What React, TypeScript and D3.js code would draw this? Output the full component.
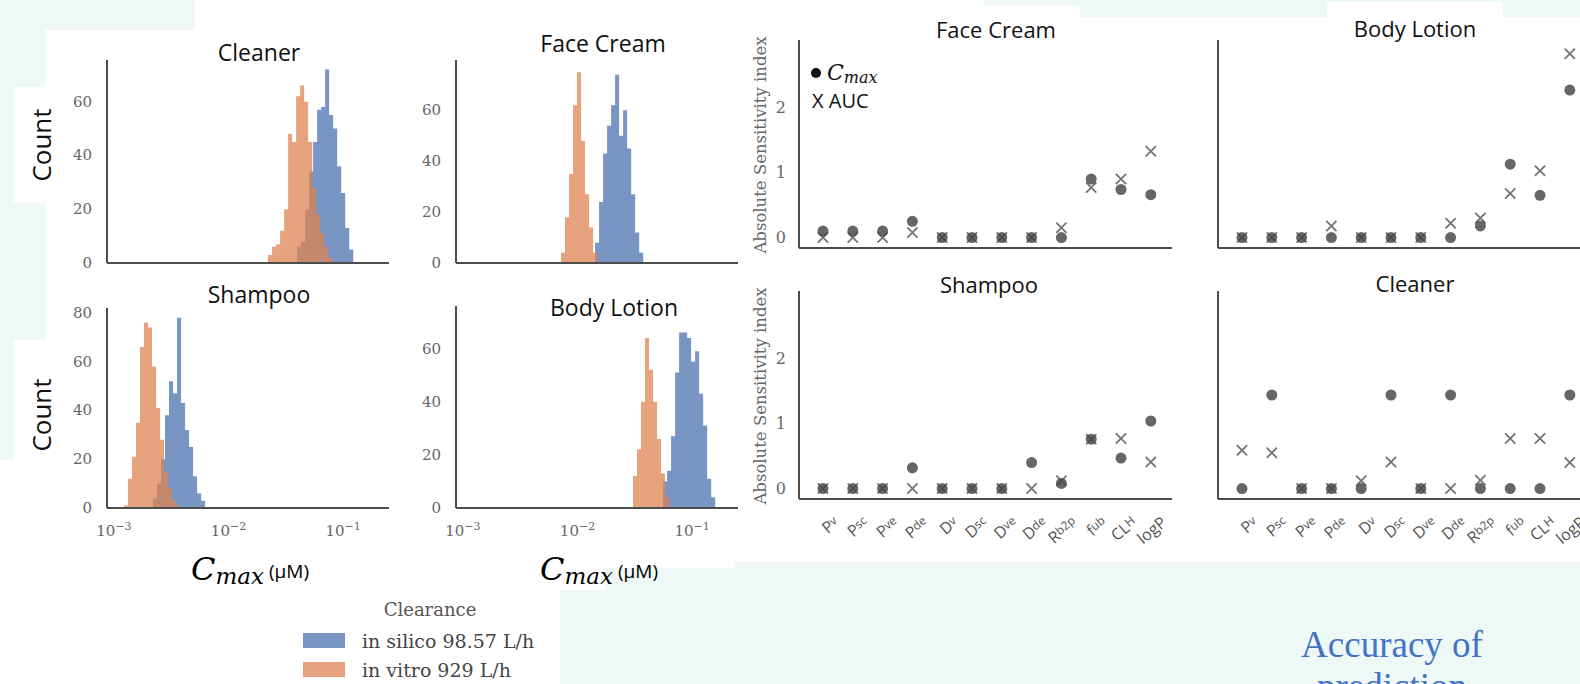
import { useEffect, useRef } from "react";
import * as d3 from "d3";

const W = 1580;
const H = 684;
const MINT = "#eef8f6";
const BLUE = "#4c72b0";
const ORANGE = "#dd8452";

// ---- histograms of C_max (log10 bins, width in decades) ----
const binWidth = 0.035;
const histTitles = ["Cleaner", "Face Cream", "Shampoo", "Body Lotion"];
const histYMax = [75.5, 79.8, 82, 76];
const histYTicks = [[0, 20, 40, 60], [0, 20, 40, 60], [0, 20, 40, 60, 80], [0, 20, 40, 60]];
const xTickExps = [-3, -2, -1];

const silicoStart = [-1.402, -1.847, -2.659, -1.254];
const silicoCounts = [
  [6, 8, 20, 34, 45, 57, 58, 72, 55, 50, 36, 26, 13, 5],
  [8, 24, 43, 54, 62, 74, 50, 60, 45, 27, 12, 4],
  [4, 10, 20, 38, 52, 47, 78, 43, 32, 25, 13, 6, 3],
  [10, 14, 27, 51, 66, 66, 64, 55, 59, 43, 31, 11, 4],
];
const vitroStart = [-1.655, -2.144, -2.912, -1.516];
const vitroCounts = [
  [3, 6, 7, 12, 20, 48, 45, 62, 66, 60, 45, 28, 18, 11, 6, 2],
  [4, 18, 35, 62, 75, 48, 27, 14, 4],
  [1, 12, 21, 35, 66, 76, 74, 58, 41, 28, 15, 8, 3, 1],
  [12, 22, 40, 64, 52, 40, 26, 13, 4],
];
const legendTitle = "Clearance";
const legendLabels = ["in silico 98.57 L/h", "in vitro 929 L/h"];

// ---- sensitivity scatter ----
const params = ["P", "P", "P", "P", "D", "D", "D", "D", "R", "f", "CL", "logP"];
const paramSubs = ["v", "sc", "ve", "de", "v", "sc", "ve", "de", "b2p", "ub", "H", ""];
const scatterTitles = ["Face Cream", "Body Lotion", "Shampoo", "Cleaner"];
const scatterYTicks = [0, 1, 2];
const cmaxValues = [
  [0.1, 0.1, 0.1, 0.25, 0, 0, 0, 0, 0, 0.9, 0.74, 0.66],
  [0, 0, 0, 0, 0, 0, 0, 0, 0.18, 1.13, 0.65, 2.27],
  [0, 0, 0, 0.32, 0, 0, 0, 0.4, 0.08, 0.76, 0.47, 1.04],
  [0, 1.44, 0, 0, 0, 1.44, 0, 1.44, 0, 0, 0, 1.44],
];
const aucValues = [
  [0, 0, 0, 0.08, 0, 0, 0, 0, 0.15, 0.77, 0.9, 1.33],
  [0, 0, 0, 0.18, 0, 0, 0, 0.22, 0.3, 0.68, 1.03, 2.83],
  [0, 0, 0, 0, 0, 0, 0, 0, 0.12, 0.76, 0.77, 0.41],
  [0.59, 0.55, 0, 0, 0.12, 0.41, 0, 0, 0.13, 0.77, 0.77, 0.4],
];

const SANS = "'Open Sans', sans-serif";
const SERIF = "'DejaVu Serif', serif";

export default function App() {
  const ref = useRef<SVGSVGElement>(null);

  useEffect(() => {
    const svg = d3.select(ref.current);
    svg.selectAll("*").remove();

    // slide background + white picture areas
    svg.append("rect").attr("width", W).attr("height", H).attr("fill", MINT);
    const whiteBoxes = [
      [195, 0, 789, 35], [45, 30, 690, 538], [735, 17, 845, 545], [984, 5, 96, 12],
      [1327, 2, 176, 15], [13, 87, 37, 116], [13, 340, 37, 120], [0, 460, 45, 224],
      [45, 568, 515, 116], [560, 568, 45, 22],
    ];
    svg.selectAll("rect.white").data(whiteBoxes).join("rect")
      .attr("class", "white")
      .attr("x", d => d[0]).attr("y", d => d[1])
      .attr("width", d => d[2]).attr("height", d => d[3])
      .attr("fill", "#fff");

    // ---------- histograms ----------
    const histPanels = [
      { x: 107, y: 60, h: 203 },
      { x: 456, y: 60, h: 203 },
      { x: 107, y: 308, h: 200 },
      { x: 456, y: 306, h: 202 },
    ];
    const titleBase = [61, 52, 303, 316];
    const titleX = [259, 603, 259, 614];

    histPanels.forEach((p, k) => {
      const g = svg.append("g");
      const xs = d3.scaleLog().domain([10 ** -3.06, 10 ** -0.6]).range([p.x, p.x + 282]);
      const ys = d3.scaleLinear().domain([0, histYMax[k]]).range([p.y + p.h, p.y]);

      const area = d3.area<{ e: number; c: number }>()
        .x(d => xs(10 ** d.e))
        .y0(ys(0))
        .y1(d => ys(d.c))
        .curve(d3.curveStepAfter);

      const series = [
        { start: silicoStart[k], counts: silicoCounts[k], color: BLUE },
        { start: vitroStart[k], counts: vitroCounts[k], color: ORANGE },
      ];
      series.forEach(s => {
        const pts = s.counts.map((c, i) => ({ e: s.start + i * binWidth, c }));
        pts.push({ e: s.start + s.counts.length * binWidth, c: s.counts[s.counts.length - 1] });
        g.append("path").attr("d", area(pts)!).attr("fill", s.color).attr("fill-opacity", 0.75);
      });

      // spines
      g.append("line").attr("x1", p.x).attr("x2", p.x).attr("y1", p.y).attr("y2", p.y + p.h)
        .attr("stroke", "#4d4d4d").attr("stroke-width", 2);
      g.append("line").attr("x1", p.x).attr("x2", p.x + 282).attr("y1", p.y + p.h).attr("y2", p.y + p.h)
        .attr("stroke", "#4d4d4d").attr("stroke-width", 2);

      g.selectAll("text.yt").data(histYTicks[k]).join("text")
        .attr("x", p.x - 15).attr("y", d => ys(d))
        .attr("text-anchor", "end").attr("dominant-baseline", "central")
        .attr("font-family", SERIF).attr("font-size", 15).attr("fill", "#666")
        .text(d => d);

      if (k >= 2) {
        xTickExps.forEach(e => {
          const t = g.append("text")
            .attr("x", xs(10 ** e)).attr("y", p.y + p.h + 28)
            .attr("text-anchor", "middle")
            .attr("font-family", SERIF).attr("font-size", 15).attr("fill", "#666");
          t.append("tspan").text("10");
          t.append("tspan").attr("dy", -6).attr("font-size", 11).text("\u2212" + Math.abs(e));
        });
        // C_max (uM) label
        const lab = svg.append("text")
          .attr("x", p.x + 143).attr("y", 580)
          .attr("text-anchor", "middle").attr("fill", "#000");
        lab.append("tspan").attr("font-family", SERIF).attr("font-style", "italic")
          .attr("font-size", 32).text("C");
        lab.append("tspan").attr("font-family", SERIF).attr("font-style", "italic")
          .attr("font-size", 23).attr("dy", 4).text("max");
        lab.append("tspan").attr("font-family", SANS).attr("font-size", 19)
          .attr("dy", -6).attr("dx", 5).text("(\u03bcM)");
      }

      svg.append("text")
        .attr("x", titleX[k]).attr("y", titleBase[k])
        .attr("text-anchor", "middle")
        .attr("font-family", SANS).attr("font-size", 23).attr("fill", "#111")
        .text(histTitles[k]);
    });

    [145, 415].forEach(cy => {
      svg.append("text")
        .attr("transform", `translate(41,${cy}) rotate(-90)`)
        .attr("text-anchor", "middle").attr("dominant-baseline", "central")
        .attr("font-family", SANS).attr("font-size", 26).attr("fill", "#111")
        .text("Count");
    });

    // histogram legend
    svg.append("text").attr("x", 430).attr("y", 609)
      .attr("text-anchor", "middle").attr("dominant-baseline", "central")
      .attr("font-family", SERIF).attr("font-size", 18).attr("fill", "#555")
      .text(legendTitle);
    [BLUE, ORANGE].forEach((c, i) => {
      svg.append("rect").attr("x", 303).attr("y", 633 + i * 29).attr("width", 42).attr("height", 15)
        .attr("fill", c).attr("fill-opacity", 0.75);
      svg.append("text").attr("x", 362).attr("y", 641 + i * 29)
        .attr("dominant-baseline", "central")
        .attr("font-family", SERIF).attr("font-size", 19).attr("fill", "#444")
        .text(legendLabels[i]);
    });

    // ---------- scatter panels ----------
    const scPanels = [
      { x: 799, y: 40 },
      { x: 1218, y: 40 },
      { x: 799, y: 291 },
      { x: 1218, y: 291 },
    ];
    const scTitleX = [996, 1415, 989, 1415];
    const scTitleBase = [38, 37, 293, 292];

    scPanels.forEach((p, k) => {
      const g = svg.append("g");
      const xs = d3.scalePoint<number>().domain(d3.range(12)).range([p.x + 24, p.x + 24 + 11 * 29.8]);
      const ys = d3.scaleLinear().domain([-0.16, 3.04]).range([p.y + 208, p.y]);

      g.append("line").attr("x1", p.x).attr("x2", p.x).attr("y1", p.y).attr("y2", p.y + 208)
        .attr("stroke", "#4d4d4d").attr("stroke-width", 2);
      g.append("line").attr("x1", p.x).attr("x2", p.x + 373).attr("y1", p.y + 208).attr("y2", p.y + 208)
        .attr("stroke", "#4d4d4d").attr("stroke-width", 2);

      g.selectAll("circle").data(cmaxValues[k]).join("circle")
        .attr("cx", (_, i) => xs(i)!).attr("cy", d => ys(d)).attr("r", 5.5)
        .attr("fill", "#666");
      const cross = d3.symbol().type(d3.symbolX).size(70);
      g.selectAll("path.auc").data(aucValues[k]).join("path")
        .attr("class", "auc")
        .attr("d", cross()!)
        .attr("transform", (d, i) => `translate(${xs(i)},${ys(d)})`)
        .attr("fill", "none").attr("stroke", "#444").attr("stroke-opacity", 0.75).attr("stroke-width", 1.8);

      if (k % 2 === 0) {
        g.selectAll("text.yt").data(scatterYTicks).join("text")
          .attr("x", p.x - 13).attr("y", d => ys(d))
          .attr("text-anchor", "end").attr("dominant-baseline", "central")
          .attr("font-family", SERIF).attr("font-size", 16).attr("fill", "#666")
          .text(d => d);
        g.append("text")
          .attr("transform", `translate(760,${p.y + 105}) rotate(-90)`)
          .attr("text-anchor", "middle").attr("dominant-baseline", "central")
          .attr("font-family", SERIF).attr("font-size", 16.5).attr("fill", "#666")
          .text("Absolute Sensitivity index");
      }

      if (k >= 2) {
        params.forEach((b, i) => {
          const t = g.append("text")
            .attr("transform", `translate(${xs(i)! + 9},${p.y + 224}) rotate(-40)`)
            .attr("text-anchor", "end").attr("dy", "0.75em")
            .attr("font-family", SANS).attr("font-size", 16).attr("fill", "#555");
          t.append("tspan").text(b);
          if (paramSubs[i]) t.append("tspan").attr("font-size", 12).attr("dy", -3).text(paramSubs[i]);
        });
      }

      svg.append("text")
        .attr("x", scTitleX[k]).attr("y", scTitleBase[k])
        .attr("text-anchor", "middle")
        .attr("font-family", SANS).attr("font-size", 22).attr("fill", "#111")
        .text(scatterTitles[k]);
    });

    // marker legend in the Face Cream panel
    svg.append("circle").attr("cx", 816).attr("cy", 73).attr("r", 5).attr("fill", "#111");
    const lc = svg.append("text").attr("x", 827).attr("y", 80).attr("fill", "#111");
    lc.append("tspan").attr("font-family", SERIF).attr("font-style", "italic").attr("font-size", 22).text("C");
    lc.append("tspan").attr("font-family", SERIF).attr("font-style", "italic").attr("font-size", 16)
      .attr("dy", 3).text("max");
    svg.append("text").attr("x", 812).attr("y", 108)
      .attr("font-family", SANS).attr("font-size", 20).attr("fill", "#111")
      .text("X AUC");

    // slide text at the bottom right (second line runs off the slide edge)
    svg.append("text").attr("x", 1392).attr("y", 657).attr("text-anchor", "middle")
      .attr("font-family", "'Liberation Serif', serif").attr("font-size", 37).attr("fill", "#4472c4")
      .text("Accuracy of");
    svg.append("text").attr("x", 1392).attr("y", 699).attr("text-anchor", "middle")
      .attr("font-family", "'Liberation Serif', serif").attr("font-size", 37).attr("fill", "#4472c4")
      .text("prediction");
  }, []);

  return (
    <svg ref={ref} width={W} height={H}
      style={{ position: "absolute", left: 0, top: 0, display: "block" }} />
  );
}
